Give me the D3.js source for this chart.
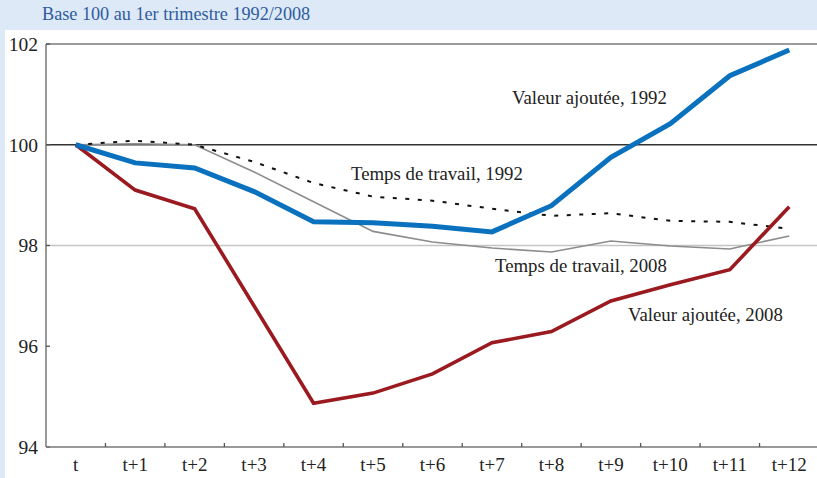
<!DOCTYPE html>
<html>
<head>
<meta charset="utf-8">
<script src="https://cdn.jsdelivr.net/npm/d3@7"></script>
<style>
  html, body { margin: 0; padding: 0; background: #dde9f6; }
  svg { display: block; }
</style>
</head>
<body>
<svg id="chart" width="817" height="478"></svg>
<script>
const categories = ["t","t+1","t+2","t+3","t+4","t+5","t+6","t+7","t+8","t+9","t+10","t+11","t+12"];
const valeurAjoutee1992 = [100, 99.64, 99.54, 99.07, 98.47, 98.45, 98.38, 98.27, 98.79, 99.75, 100.42, 101.37, 101.88];
const valeurAjoutee2008 = [100, 99.10, 98.73, 96.80, 94.87, 95.07, 95.45, 96.07, 96.29, 96.90, 97.22, 97.52, 98.77];
const tempsTravail1992 = [100, 100.08, 100.0, 99.66, 99.24, 98.97, 98.89, 98.73, 98.59, 98.64, 98.49, 98.47, 98.33];
const tempsTravail2008 = [100, 100.02, 100.0, 99.46, 98.87, 98.28, 98.07, 97.95, 97.87, 98.09, 97.99, 97.93, 98.19];
const yTicks = [94, 96, 98, 100, 102];
const title = "Base 100 au 1er trimestre 1992/2008";

const FONT = "'Liberation Serif', 'DejaVu Serif', serif";
const svg = d3.select("#chart");
const W = 817, H = 478;

svg.append("rect").attr("x", 0).attr("y", 0).attr("width", W).attr("height", H).attr("fill", "#dde9f6");
svg.append("rect").attr("x", 5).attr("y", 30).attr("width", W - 5).attr("height", H - 30).attr("fill", "#ffffff");

svg.append("text").attr("x", 42).attr("y", 20)
  .style("font-family", FONT).style("font-size", "18.2px").attr("fill", "#2f5c9e").text(title);

const x = d3.scaleBand().domain(categories).range([46, 819]).paddingInner(0).paddingOuter(0);
const y = d3.scaleLinear().domain([94, 102]).range([447, 44]);
const cx = c => x(c) + x.bandwidth() / 2;

const gridStyle = {102: {c: "#7a7a7a", w: 1.3}, 100: {c: "#333333", w: 1.3}, 98: {c: "#c4c4c4", w: 1.3}};
[102, 100, 98].forEach(v => {
  svg.append("line").attr("x1", 46).attr("x2", W).attr("y1", y(v)).attr("y2", y(v))
    .attr("stroke", gridStyle[v].c).attr("stroke-width", gridStyle[v].w);
});

const yAxis = d3.axisLeft(y).tickValues(yTicks).tickSize(0).tickPadding(8).tickFormat(d3.format("d"));
const gy = svg.append("g").attr("transform", "translate(46,0)").call(yAxis);
gy.select(".domain").remove();
gy.selectAll("text").style("font-family", FONT).style("font-size", "19.5px").attr("fill", "#222").attr("dx", 0);
svg.append("line").attr("x1", 46).attr("x2", 46).attr("y1", y(102)).attr("y2", y(94))
  .attr("stroke", "#777").attr("stroke-width", 1.5);
yTicks.forEach(v => {
  svg.append("line").attr("x1", 46).attr("x2", 50).attr("y1", y(v)).attr("y2", y(v))
    .attr("stroke", "#555").attr("stroke-width", 1.3);
});

const xAxis = d3.axisBottom(x).tickSize(0).tickPadding(11);
const gx = svg.append("g").attr("transform", "translate(0,447)").call(xAxis);
gx.select(".domain").remove();
gx.selectAll("text").style("font-family", FONT).style("font-size", "19px").attr("fill", "#222");
svg.append("line").attr("x1", 46).attr("x2", W).attr("y1", 447).attr("y2", 447)
  .attr("stroke", "#777").attr("stroke-width", 1.5);
categories.slice(1).forEach(c => {
  svg.append("line").attr("x1", x(c)).attr("x2", x(c)).attr("y1", 447).attr("y2", 443)
    .attr("stroke", "#555").attr("stroke-width", 1.3);
});

const line = d3.line().x((d, i) => cx(categories[i])).y(d => y(d));

svg.append("path").datum(tempsTravail2008).attr("d", line)
  .attr("fill", "none").attr("stroke", "#8c8c8c").attr("stroke-width", 1.6);
svg.append("path").datum(tempsTravail1992).attr("d", line)
  .attr("fill", "none").attr("stroke", "#111").attr("stroke-width", 2).attr("stroke-dasharray", "4,8.5");
svg.append("path").datum(valeurAjoutee2008).attr("d", line)
  .attr("fill", "none").attr("stroke", "#9a1a20").attr("stroke-width", 3.6).attr("stroke-linejoin", "miter");
svg.append("path").datum(valeurAjoutee1992).attr("d", line)
  .attr("fill", "none").attr("stroke", "#0a71bf").attr("stroke-width", 5).attr("stroke-linejoin", "miter");

const labels = [
  {t: "Valeur ajoutée, 1992", x: 512, y: 104},
  {t: "Temps de travail, 1992", x: 351, y: 180},
  {t: "Temps de travail, 2008", x: 495, y: 272},
  {t: "Valeur ajoutée, 2008", x: 628, y: 321}
];
svg.selectAll("text.lab").data(labels).enter().append("text").attr("class", "lab")
  .attr("x", d => d.x).attr("y", d => d.y)
  .style("font-family", FONT).style("font-size", "18.8px").attr("fill", "#222").text(d => d.t);
</script>
</body>
</html>
